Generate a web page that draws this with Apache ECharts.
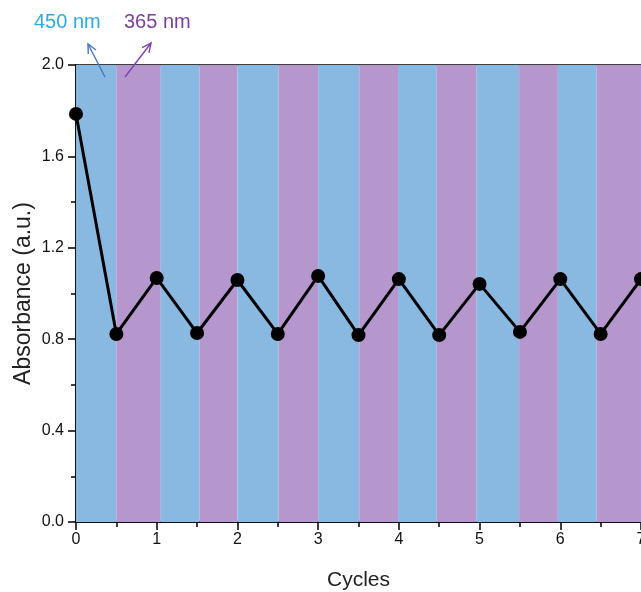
<!DOCTYPE html>
<html>
<head>
<meta charset="utf-8">
<script src="https://cdn.jsdelivr.net/npm/echarts@6/dist/echarts.min.js"></script>
<style>html,body{margin:0;padding:0;background:#fff;}#c{width:641px;height:592px;}</style>
</head>
<body>
<div id="c"></div>
<script>
// Data
var cycles = [0, 0.5, 1, 1.5, 2, 2.5, 3, 3.5, 4, 4.5, 5, 5.5, 6, 6.5, 7];
var absorbance = [1.786, 0.823, 1.068, 0.827, 1.059, 0.823, 1.077, 0.818, 1.063, 0.818, 1.042, 0.832, 1.063, 0.823, 1.063];
var stripeEdges = [0, 0.5, 1.05, 1.53, 2.0, 2.51, 3.0, 3.51, 3.99, 4.47, 4.96, 5.49, 5.97, 6.45, 7];
var stripeNames = ['450 nm', '365 nm'];
var yTicks = ['0.0', '0.4', '0.8', '1.2', '1.6', '2.0'];

var blue = '#89b8e1', purple = '#b596cd';
var areas = [];
for (var i = 0; i < stripeEdges.length - 1; i++) {
  areas.push([{xAxis: stripeEdges[i], itemStyle: {color: i % 2 === 0 ? blue : purple}}, {xAxis: stripeEdges[i + 1]}]);
}
var pts = cycles.map(function (x, i) { return [x, absorbance[i]]; });

function arrow(x1, y1, x2, y2, color) {
  var ang = Math.atan2(y2 - y1, x2 - x1), L = 10, w = 0.45;
  var p1 = [x2 - L * Math.cos(ang - w), y2 - L * Math.sin(ang - w)];
  var p2 = [x2 - L * Math.cos(ang + w), y2 - L * Math.sin(ang + w)];
  return [
    {type: 'line', z: 100, shape: {x1: x1, y1: y1, x2: x2, y2: y2}, style: {stroke: color, lineWidth: 1.4}},
    {type: 'polyline', z: 100, shape: {points: [p1, [x2, y2], p2]}, style: {stroke: color, lineWidth: 1.4, fill: null}}
  ];
}

var chart = echarts.init(document.getElementById('c'), null, {renderer: 'canvas'});
var font = 'Liberation Sans, Arial, sans-serif';
chart.setOption({
  animation: false,
  backgroundColor: '#fff',
  grid: {left: 76, right: 0, top: 65, bottom: 70, show: true, borderColor: '#000', borderWidth: 1.5,
    backgroundColor: 'transparent', containLabel: false, outerBoundsMode: 'none'},
  xAxis: {
    type: 'value', min: 0, max: 7, interval: 1,
    name: 'Cycles', nameLocation: 'middle', nameGap: 48, nameMoveOverlap: false,
    nameTextStyle: {fontFamily: font, fontSize: 21, color: '#222'},
    axisLine: {show: true, lineStyle: {color: '#000', width: 1.5}},
    axisTick: {show: true, inside: false, length: 8, lineStyle: {color: '#000', width: 1.5}},
    minorTick: {show: true, splitNumber: 2, length: 5, lineStyle: {color: '#000', width: 1.5}},
    axisLabel: {fontFamily: font, fontSize: 16, color: '#111', margin: 10},
    splitLine: {show: false}
  },
  yAxis: {
    type: 'value', min: 0, max: 2.0, interval: 0.4,
    name: 'Absorbance (a.u.)', nameLocation: 'middle', nameGap: 41, nameRotate: 90, nameMoveOverlap: false,
    nameTextStyle: {fontFamily: font, fontSize: 23, color: '#222'},
    axisLine: {show: true, lineStyle: {color: '#000', width: 1.5}},
    axisTick: {show: true, inside: false, length: 8, lineStyle: {color: '#000', width: 1.5}},
    minorTick: {show: true, splitNumber: 2, length: 5, lineStyle: {color: '#000', width: 1.5}},
    axisLabel: {fontFamily: font, fontSize: 16, color: '#111', margin: 12,
      formatter: function (v) { var s = v.toFixed(1); return yTicks.indexOf(s) >= 0 ? s : ''; }},
    splitLine: {show: false}
  },
  series: [{
    type: 'line',
    data: pts,
    symbol: 'circle', symbolSize: 14,
    lineStyle: {color: '#000', width: 3},
    itemStyle: {color: '#000'},
    clip: false,
    z: 5,
    markArea: {silent: true, data: areas, z: 1}
  }],
  graphic: [
    {type: 'text', z: 100, left: 34, top: 12, style: {text: stripeNames[0], fontFamily: font, fontSize: 20, fill: '#2eaae3'}},
    {type: 'text', z: 100, left: 124, top: 12, style: {text: stripeNames[1], fontFamily: font, fontSize: 20, fill: '#7a3f9d'}}
  ].concat(arrow(105, 77, 88, 44, '#4677c8')).concat(arrow(125, 77, 151, 43, '#8040b0'))
});
</script>
</body>
</html>
